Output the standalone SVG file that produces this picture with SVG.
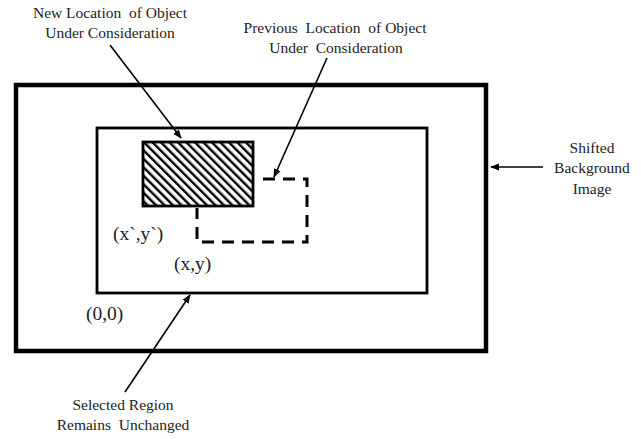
<svg xmlns="http://www.w3.org/2000/svg" width="641" height="439" viewBox="0 0 641 439">
<style>
.lbl{font-size:15.5px;text-anchor:middle;white-space:pre;}
.coord{font-size:19.5px;}
.arrow{stroke:#000;stroke-width:1.6;fill:none;marker-end:url(#ah);}
</style>
<defs>
<marker id="ah" viewBox="0 0 10 10" refX="9" refY="5" markerWidth="9" markerHeight="9" markerUnits="userSpaceOnUse" orient="auto">
<path d="M0,1 L10,5 L0,9 z" fill="#000"/>
</marker>
<pattern id="hatch" patternUnits="userSpaceOnUse" width="6" height="6" patternTransform="rotate(-45)">
<rect width="6" height="6" fill="#fff"/>
<rect x="0" y="0" width="2.4" height="6" fill="#000"/>
</pattern>
</defs>
<rect width="641" height="439" fill="#fff"/>
<g id="background-image">
<rect x="16" y="85" width="470" height="266" fill="none" stroke="#000" stroke-width="4.5"/>
</g>
<g id="selected-region">
<rect x="97" y="128" width="330" height="165" fill="none" stroke="#000" stroke-width="2.8"/>
</g>
<g id="previous-location">
<path d="M263,179 H307 V242 H197 V208" fill="none" stroke="#000" stroke-width="3" stroke-dasharray="12,8"/>
</g>
<g id="new-location">
<rect x="143" y="142" width="110" height="64" fill="url(#hatch)" stroke="#000" stroke-width="2.8"/>
</g>
<g id="connectors">
<line class="arrow" x1="110" y1="45" x2="181" y2="138"/>
<line class="arrow" x1="327" y1="58" x2="274" y2="177"/>
<line class="arrow" x1="543" y1="167" x2="491" y2="167"/>
<line class="arrow" x1="125" y1="392" x2="190" y2="295"/>
</g>
<g id="labels" font-family="'Liberation Serif', 'DejaVu Serif', 'Times New Roman', serif" fill="#222">
<text class="lbl" x="110" y="18" xml:space="preserve">New Location  of Object</text>
<text class="lbl" x="110" y="38">Under Consideration</text>
<text class="lbl" x="335" y="33" xml:space="preserve">Previous  Location  of Object</text>
<text class="lbl" x="336" y="53" xml:space="preserve">Under  Consideration</text>
<text class="lbl" x="592" y="153">Shifted</text>
<text class="lbl" x="592" y="173">Background</text>
<text class="lbl" x="592" y="194">Image</text>
<text class="lbl" x="123" y="410">Selected Region</text>
<text class="lbl" x="123" y="430" xml:space="preserve">Remains  Unchanged</text>
<text class="coord" x="113" y="240">(x`,y`)</text>
<text class="coord" x="174" y="270">(x,y)</text>
<text class="coord" x="86" y="320">(0,0)</text>
</g>
</svg>
